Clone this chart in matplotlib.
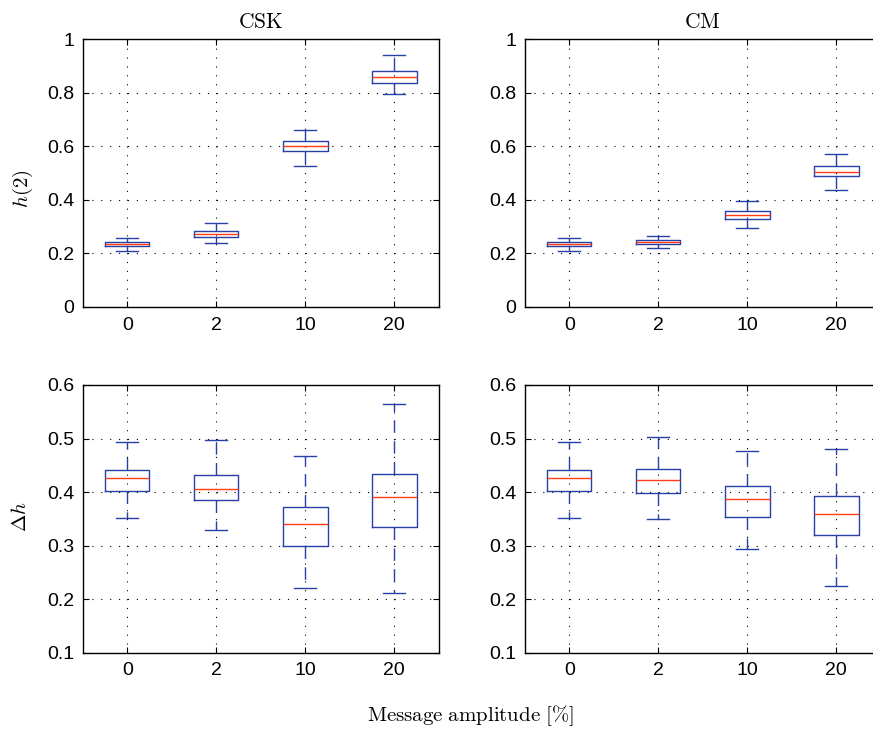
import matplotlib
matplotlib.use("Agg")
import matplotlib.pyplot as plt

plt.rcParams["font.family"] = ["Liberation Sans", "DejaVu Sans"]
plt.rcParams["mathtext.fontset"] = "cm"

categories = ["0", "2", "10", "20"]

# five-number summaries per message amplitude: low whisker, Q1, median, Q3, high whisker
csk_h2_lo = [0.208, 0.237, 0.526, 0.795]
csk_h2_q1 = [0.227, 0.262, 0.581, 0.838]
csk_h2_med = [0.233, 0.272, 0.601, 0.859]
csk_h2_q3 = [0.242, 0.284, 0.620, 0.881]
csk_h2_hi = [0.258, 0.312, 0.662, 0.941]

cm_h2_lo = [0.208, 0.218, 0.293, 0.436]
cm_h2_q1 = [0.226, 0.233, 0.330, 0.488]
cm_h2_med = [0.233, 0.241, 0.344, 0.505]
cm_h2_q3 = [0.242, 0.248, 0.359, 0.525]
cm_h2_hi = [0.258, 0.266, 0.395, 0.571]

csk_dh_lo = [0.351, 0.330, 0.220, 0.212]
csk_dh_q1 = [0.402, 0.385, 0.300, 0.334]
csk_dh_med = [0.426, 0.406, 0.340, 0.390]
csk_dh_q3 = [0.442, 0.431, 0.372, 0.433]
csk_dh_hi = [0.494, 0.498, 0.468, 0.564]

cm_dh_lo = [0.351, 0.350, 0.294, 0.224]
cm_dh_q1 = [0.402, 0.399, 0.354, 0.319]
cm_dh_med = [0.426, 0.423, 0.388, 0.359]
cm_dh_q3 = [0.442, 0.443, 0.411, 0.392]
cm_dh_hi = [0.494, 0.502, 0.477, 0.480]

BLUE = "#2740a6"
RED = "#ff3c14"

W, H = 873, 729
fig = plt.figure(figsize=(W / 100, H / 100), dpi=100)


def px_axes(x0, y0, x1, y1):
    return fig.add_axes([x0 / W, 1 - y1 / H, (x1 - x0) / W, (y1 - y0) / H])


def stats(lo, q1, med, q3, hi):
    return [dict(whislo=a, q1=b, med=c, q3=d, whishi=e, fliers=[], label=lab)
            for a, b, c, d, e, lab in zip(lo, q1, med, q3, hi, categories)]


def draw(ax, st, ylim, yticks, yticklabels):
    ax.bxp(st, positions=range(1, len(st) + 1), widths=0.5, showfliers=False,
           boxprops=dict(color=BLUE, lw=1.0),
           whiskerprops=dict(color=BLUE, lw=1.0, linestyle=(0, (9, 6))),
           capprops=dict(color=BLUE, lw=1.0),
           medianprops=dict(color=RED, lw=1.0))
    ax.set_xlim(0.5, len(st) + 0.5)
    ax.set_ylim(*ylim)
    ax.set_yticks(yticks)
    ax.set_yticklabels(yticklabels)
    ax.set_xticks(range(1, len(st) + 1))
    ax.set_xticklabels(categories)
    ax.grid(True, color="black", lw=0.8, linestyle=(0, (1, 7)))
    ax.set_axisbelow(True)
    ax.tick_params(direction="in", length=4, width=0.8, top=True, right=True,
                   labelsize=14, pad=7)
    ax.tick_params(axis="y", pad=6)
    for s in ax.spines.values():
        s.set_linewidth(1.0)


ax1 = px_axes(82.7, 39.3, 438.8, 306.8)
ax2 = px_axes(524.7, 39.3, 880.8, 306.8)
ax3 = px_axes(82.7, 385.0, 438.8, 652.7)
ax4 = px_axes(524.7, 385.0, 880.8, 652.7)

top_ticks = [0, 0.2, 0.4, 0.6, 0.8, 1.0]
top_labels = ["0", "0.2", "0.4", "0.6", "0.8", "1"]
bot_ticks = [0.1, 0.2, 0.3, 0.4, 0.5, 0.6]
bot_labels = ["0.1", "0.2", "0.3", "0.4", "0.5", "0.6"]

draw(ax1, stats(csk_h2_lo, csk_h2_q1, csk_h2_med, csk_h2_q3, csk_h2_hi),
     (0, 1), top_ticks, top_labels)
draw(ax2, stats(cm_h2_lo, cm_h2_q1, cm_h2_med, cm_h2_q3, cm_h2_hi),
     (0, 1), top_ticks, top_labels)
draw(ax3, stats(csk_dh_lo, csk_dh_q1, csk_dh_med, csk_dh_q3, csk_dh_hi),
     (0.1, 0.6), bot_ticks, bot_labels)
draw(ax4, stats(cm_dh_lo, cm_dh_q1, cm_dh_med, cm_dh_q3, cm_dh_hi),
     (0.1, 0.6), bot_ticks, bot_labels)

ax1.set_title(r"$\mathrm{CSK}$", fontsize=15.5, pad=8)
ax2.set_title(r"$\mathrm{CM}$", fontsize=15.5, pad=8)

fig.text(22.5 / W, 1 - 189 / H, r"$h(2)$", rotation=90, fontsize=15,
         ha="center", va="center")
fig.text(20 / W, 1 - 517 / H, r"$\Delta h$", rotation=90, fontsize=15,
         ha="center", va="center")
fig.text(470.5 / W, 1 - 721 / H, r"$\mathrm{Message\ amplitude\ [\%]}$",
         fontsize=15, ha="center", va="baseline")

fig.savefig("out.png", dpi=100)
